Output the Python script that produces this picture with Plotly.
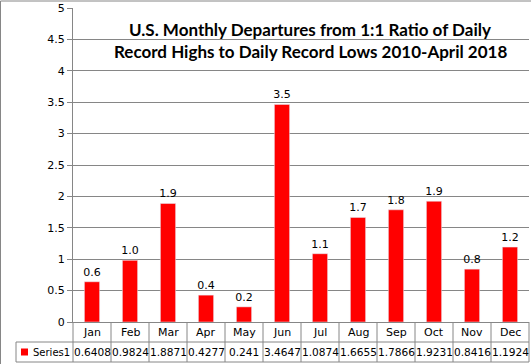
import plotly.graph_objects as go

months = ["Jan", "Feb", "Mar", "Apr", "May", "Jun", "Jul", "Aug", "Sep", "Oct", "Nov", "Dec"]
series1 = [0.6408, 0.9824, 1.8871, 0.4277, 0.241, 3.4647, 1.0874, 1.6655, 1.7866, 1.9231, 0.8416, 1.1924]
series_name = "Series1"
title_lines = ["U.S. Monthly Departures from 1:1 Ratio of Daily",
               "Record Highs to Daily Record Lows 2010-April 2018"]

W, H = 531, 364
L, R, T, B = 73, 529, 8, 322  # plot area in px
pw, ph = R - L, B - T

def px(x):
    return (x - L) / pw

def py(y):
    return (B - y) / ph

GRID = "#868686"
FONT = "DejaVu Sans"

fig = go.Figure()
fig.add_trace(go.Bar(
    x=months, y=series1, marker_color="#FF0000", width=0.4,
    texttemplate="%{y:.1f}", textposition="outside", constraintext="none",
    textfont=dict(family=FONT, size=11, color="#000000"),
    cliponaxis=False, showlegend=False, hoverinfo="skip",
))

shapes = []
# chart border
shapes.append(dict(type="rect", xref="paper", yref="paper",
                   x0=px(0.5), x1=px(W + 5), y0=py(H + 5), y1=py(1),
                   line=dict(color=GRID, width=1)))
# table lines
row1_bot = 342
row2_bot = 362
shapes.append(dict(type="line", xref="paper", yref="paper",
                   x0=px(16), x1=px(R), y0=py(row1_bot), y1=py(row1_bot),
                   line=dict(color=GRID, width=1)))
shapes.append(dict(type="line", xref="paper", yref="paper",
                   x0=px(16), x1=px(R), y0=py(row2_bot), y1=py(row2_bot),
                   line=dict(color=GRID, width=1)))
shapes.append(dict(type="line", xref="paper", yref="paper",
                   x0=px(16), x1=px(16), y0=py(row1_bot), y1=py(row2_bot),
                   line=dict(color=GRID, width=1)))
n = len(months)
for i in range(n + 1):
    xb = i / n
    shapes.append(dict(type="line", xref="paper", yref="paper",
                       x0=xb, x1=xb, y0=py(B), y1=py(row2_bot),
                       line=dict(color=GRID, width=1)))

annotations = []
for i, (m, v) in enumerate(zip(months, series1)):
    xc = (i + 0.5) / n
    annotations.append(dict(x=xc, y=py((B + row1_bot) / 2), xref="paper", yref="paper",
                            text=m, showarrow=False, xanchor="center", yanchor="middle",
                            font=dict(family=FONT, size=11, color="#000000")))
    annotations.append(dict(x=xc, y=py((row1_bot + row2_bot) / 2), xref="paper", yref="paper",
                            text=f"{v:g}", showarrow=False, xanchor="center", yanchor="middle",
                            font=dict(family=FONT, size=10.6, color="#000000")))
# legend key + series name
shapes.append(dict(type="rect", xref="paper", yref="paper",
                   x0=px(21), x1=px(28), y0=py(355.5), y1=py(348.5),
                   fillcolor="#FF0000", line=dict(width=0)))
annotations.append(dict(x=px(31), y=py((row1_bot + row2_bot) / 2), xref="paper", yref="paper",
                        text=series_name, showarrow=False, xanchor="left", yanchor="middle",
                        font=dict(family=FONT, size=10, color="#000000")))
# title
for j, line in enumerate(title_lines):
    annotations.append(dict(x=px(310), y=py(30 + 22 * j), xref="paper", yref="paper",
                            text=f"<b>{line}</b>", showarrow=False, xanchor="center", yanchor="middle",
                            font=dict(family="Lato", size=17, color="#000000")))

fig.update_layout(
    width=W, height=H,
    margin=dict(l=L, r=W - R, t=T, b=H - B, pad=0),
    paper_bgcolor="white", plot_bgcolor="white",
    shapes=shapes, annotations=annotations,
    bargap=0.6, hovermode=False,
    xaxis=dict(range=[-0.5, n - 0.5], showticklabels=False, showgrid=False,
               showline=True, linecolor=GRID, linewidth=1, zeroline=False, ticks=""),
    yaxis=dict(range=[0, 5], dtick=0.5, showgrid=True, gridcolor=GRID, gridwidth=1,
               showline=True, linecolor=GRID, linewidth=1, zeroline=False,
               ticks="outside", ticklen=5, tickcolor=GRID,
               tickfont=dict(family=FONT, size=11, color="#000000")),
)

fig.write_html("out.html", config={"displayModeBar": False},
               post_script="document.body.style.margin='0';document.body.style.overflow='hidden';")
